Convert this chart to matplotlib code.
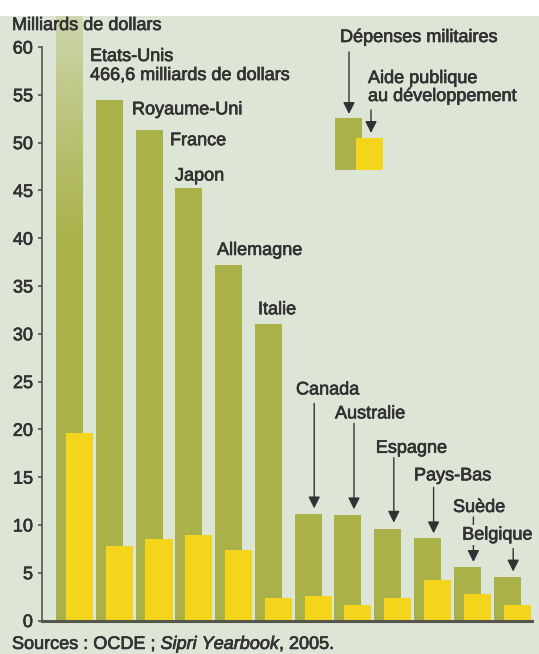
import matplotlib
matplotlib.use("Agg")
import matplotlib.pyplot as plt
import matplotlib.transforms as mtransforms
import matplotlib.patheffects as pe
from matplotlib.patches import Rectangle
import numpy as np

plt.rcParams["font.family"] = ["Liberation Sans", "DejaVu Sans"]
plt.rcParams["mathtext.fontset"] = "custom"
plt.rcParams["mathtext.rm"] = "Liberation Sans"
plt.rcParams["mathtext.it"] = "Liberation Sans:italic"

# data (milliards de dollars)
countries = ["Etats-Unis", "Royaume-Uni", "France", "Japon", "Allemagne", "Italie",
             "Canada", "Australie", "Espagne", "Pays-Bas", "Suède", "Belgique"]
military = [466.6, 54.5, 51.3, 45.2, 37.2, 31.0, 11.1, 11.0, 9.6, 8.6, 5.6, 4.6]
aid = [19.6, 7.8, 8.5, 8.9, 7.4, 2.4, 2.6, 1.6, 2.4, 4.2, 2.8, 1.6]
yticks = list(range(0, 61, 5))

BG = "#dde5d7"
OLIVE = "#a9b148"
YELLOW = "#f4d51c"
INK = "#323232"
AXIS = "#55564c"
FS = 13
BOLDEN = [pe.withStroke(linewidth=0.5, foreground=INK)]

W, H = 539, 654
STEP = 39.8          # px between two countries
PX_PER_UNIT = 9.558  # px per milliard

# label layout, in pixels relative to (bar centre, bar top)
top_labels = {       # dx of left edge, dy of baseline
    "Royaume-Uni": (22.8, -14.7),
    "France": (21, -15),
    "Japon": (-13.8, 8),
    "Allemagne": (-11.6, 10),
    "Italie": (-10.4, 10),
}
arrow_labels = {     # dx text, dy baseline, dy arrow start, dy arrow tip
    "Canada": (-12.2, 120, 111, 6),
    "Australie": (-13, 97, 92, 6),
    "Espagne": (-12, 76, 71, 6),
    "Pays-Bas": (-13.6, 58, 51, 5),
    "Suède": (-14.4, 55, 50, 5),
    "Belgique": (-45, 37, 28, 5),
}
ARROW_DX = 6

fig = plt.figure(figsize=(W / 100, H / 100), dpi=100, facecolor="white")
fig.add_artist(Rectangle((0, 0), 1, 1 - 16 / H, transform=fig.transFigure,
                         facecolor=BG, edgecolor="none", zorder=-10))

ax = fig.add_axes([42 / W, 33.5 / H, (532 - 42) / W, (620.5 - 16) / H])
ax.patch.set_visible(False)

x = np.arange(len(countries))
width = 27 / STEP
offset = 10 / STEP
ax.set_xlim(-27.4 / STEP, (532 - 69.4) / STEP)
ax.set_ylim(0, (620.5 - 16) / PX_PER_UNIT)

bars_mil = ax.bar(x, military, width=width, color=OLIVE, zorder=2)
ax.bar(x + offset, aid, width=width, color=YELLOW, zorder=3)

# the US bar runs off the top: fade it out
b = bars_mil[0]
ytop = ax.get_ylim()[1]
grad = np.zeros((120, 1, 4))
grad[..., :3] = matplotlib.colors.to_rgb(BG)
grad[:, 0, 3] = np.linspace(0, 1, 120) ** 1.2 * 0.72
ax.imshow(grad, extent=[b.get_x(), b.get_x() + b.get_width(), 38, ytop],
          origin="lower", aspect="auto", zorder=2.5, interpolation="bilinear")

for s in ("top", "right"):
    ax.spines[s].set_visible(False)
ax.spines["left"].set_bounds(0, 60)
ax.spines["left"].set_color(AXIS)
ax.spines["left"].set_linewidth(1.2)
ax.spines["bottom"].set_color(AXIS)
ax.spines["bottom"].set_linewidth(2.2)
ax.spines["bottom"].set_zorder(4)
ax.set_xticks([])
ax.set_yticks(yticks)
ax.tick_params(axis="y", direction="out", length=3, width=1.2, color=AXIS,
               labelsize=FS, labelcolor=INK, pad=3.5)
for lab in ax.get_yticklabels():
    lab.set_path_effects(BOLDEN)


def px_trans(dx, dy):
    return mtransforms.offset_copy(ax.transData, fig=fig, x=dx, y=dy, units="dots")


def label(xv, yv, s, dx, dy, **kw):
    ax.text(xv, yv, s, transform=px_trans(dx, dy), fontsize=FS, color=INK,
            va="baseline", ha="left", zorder=6, path_effects=BOLDEN, **kw)


# Etats-Unis label (bar is clipped, so anchor at 60)
label(0, 60, "Etats-Unis", 20.6, -14)
label(0, 60, "466,6 milliards de dollars", 20.6, -33)

for name, (dx, dy) in top_labels.items():
    i = countries.index(name)
    label(x[i], military[i], name, dx, dy)

ARROW = dict(arrowstyle="-|>,head_length=0.7,head_width=0.35", color=INK, lw=1,
             shrinkA=0, shrinkB=0, mutation_scale=10)

for name, (dx, dy, a0, a1) in arrow_labels.items():
    i = countries.index(name)
    ax.annotate("", xy=(x[i], military[i]), xycoords=px_trans(ARROW_DX, a1),
                xytext=(0, a0 - a1), textcoords="offset pixels",
                arrowprops=ARROW, zorder=5)
    bbox = dict(facecolor=BG, edgecolor="none", pad=1) if name == "Belgique" else None
    label(x[i], military[i], name, dx, dy, bbox=bbox)


def fpx(px, py):
    return px / W, 1 - py / H


def ftext(px, py, s):
    fig.text(*fpx(px, py), s, fontsize=FS, color=INK, va="baseline",
             path_effects=BOLDEN)


# axis title and source
ftext(12, 30, "Milliards de dollars")
ftext(12, 649, r"Sources : OCDE ; $\mathit{Sipri\ Yearbook}$, 2005.")

# legend
fig.add_artist(Rectangle(fpx(335, 170), 27 / W, 52 / H, transform=fig.transFigure,
                         facecolor=OLIVE, edgecolor="none"))
fig.add_artist(Rectangle(fpx(356, 170), 27 / W, 32 / H, transform=fig.transFigure,
                         facecolor=YELLOW, edgecolor="none"))
ftext(340, 42, "Dépenses militaires")
ftext(368, 83, "Aide publique")
ftext(368, 101, "au développement")
for (ax0, y0, y1) in [(349, 52, 114), (371, 110, 133)]:
    ax.annotate("", xy=(ax0, H - y1), xycoords="figure pixels",
                xytext=(ax0, H - y0), textcoords="figure pixels",
                arrowprops=ARROW, annotation_clip=False)

fig.savefig("out.png", dpi=100, facecolor=fig.get_facecolor())
